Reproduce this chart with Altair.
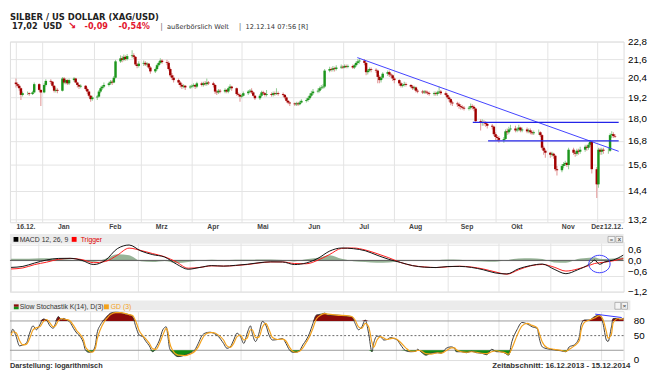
import altair as alt
import pandas as pd

# ---------------- daily candles, one row per trading week (Mon..Fri) ----------------
OPEN_W = [
    [20.10, 20.00, 19.90, 19.75, 19.35], [19.45, 19.45, 19.40, 19.50], [20.00, 19.65, 19.50, 19.95],
    [20.20, 20.15, 19.90, 19.60, 19.65], [19.60, 20.35, 20.10, 20.25, 20.05], [20.25, 20.35, 20.10, 19.95, 19.85],
    [19.90, 19.70, 19.55, 19.30, 19.10], [19.20, 19.25, 19.55, 19.75, 19.85], [19.95, 20.05, 20.15, 20.10, 20.40],
    [21.45, 21.65, 21.55, 21.75, 21.60], [21.80, 21.85, 21.75, 21.25, 21.15], [21.30, 21.35, 21.25, 21.30, 21.05],
    [20.80, 20.95, 21.20, 21.35, 21.50], [21.40, 21.35, 20.95, 20.55, 20.40], [20.25, 20.10, 19.95, 19.85, 19.90],
    [19.80, 19.85, 19.90, 19.95, 19.85], [20.05, 19.95, 20.05, 20.00, 20.10], [20.05, 19.95, 19.55, 19.50, 19.60],
    [19.55, 19.65, 19.55, 19.75, 19.85], [19.75, 19.40, 19.35, 19.25, 19.30], [19.45, 19.55, 19.60, 19.50, 19.30],
    [19.15, 19.30, 19.50, 19.45, 19.35], [19.40, 19.35, 19.45, 19.40, 19.45], [19.40, 19.35, 19.20, 19.00, 18.90],
    [18.85, 18.80, 18.85, 18.80, 18.90], [19.00, 19.05, 19.15, 19.30, 19.45], [19.55, 19.60, 19.75, 19.80, 19.85],
    [20.85, 20.95, 20.90, 21.00, 20.95], [21.05, 21.10, 21.05, 21.15, 21.10], [21.15, 21.05, 21.20, 21.35, 21.45],
    [21.50, 21.35, 20.75, 20.85, 20.95], [20.90, 20.85, 20.45, 20.25, 20.40], [20.65, 20.75, 20.60, 20.55, 20.35],
    [20.25, 20.05, 19.90, 19.95, 20.00], [19.95, 19.85, 19.75, 19.80, 19.60], [19.55, 19.50, 19.55, 19.50, 19.45],
    [19.40, 19.45, 19.40, 19.50, 19.55], [19.45, 19.35, 19.20, 19.10, 18.90], [18.85, 18.80, 18.70, 18.65, 18.60],
    [18.55, 18.60, 18.70, 18.65, 18.55], [17.85, 17.75, 17.80, 17.75, 17.70], [17.60, 17.55, 17.15, 17.00, 16.95],
    [16.85, 16.90, 17.30, 17.25, 17.40], [17.45, 17.35, 17.40, 17.50, 17.35], [17.40, 17.30, 17.35, 17.25, 17.20],
    [17.25, 17.25, 17.10, 16.45, 16.30], [16.20, 16.10, 16.15, 16.05, 15.40], [15.35, 15.55, 15.65, 15.70, 15.60],
    [16.35, 16.20, 16.15, 16.30, 16.25], [16.35, 16.50, 16.45, 16.60, 16.75], [15.40, 14.70, 16.35, 16.25, 16.35],
    [16.30, 16.30, 17.10, 17.15, 17.05],
]
HIGH_W = [
    [20.35, 20.10, 20.00, 19.80, 19.55], [19.55, 19.50, 19.60, 20.10], [20.05, 19.70, 20.05, 20.30],
    [20.30, 20.20, 19.95, 19.80, 19.75], [20.45, 20.45, 20.35, 20.30, 20.35], [20.45, 20.40, 20.15, 20.00, 20.00],
    [19.95, 19.80, 19.60, 19.35, 19.30], [19.35, 19.65, 19.85, 19.95, 20.10], [20.15, 20.25, 20.25, 20.50, 21.55],
    [21.85, 21.80, 21.90, 21.85, 21.95], [22.20, 22.00, 21.80, 21.35, 21.45], [21.50, 21.45, 21.40, 21.35, 21.15],
    [21.05, 21.30, 21.45, 21.65, 21.60], [21.55, 21.45, 21.05, 20.70, 20.55], [20.35, 20.20, 20.05, 20.00, 19.95],
    [19.95, 20.00, 20.05, 20.00, 20.15], [20.15, 20.15, 20.20, 20.35, 20.20], [20.15, 20.00, 19.65, 19.70, 19.70],
    [19.75, 19.70, 19.85, 20.00, 19.90], [19.80, 19.50, 19.45, 19.40, 19.55], [19.65, 19.70, 19.75, 19.55, 19.35],
    [19.40, 19.60, 19.60, 19.50, 19.65], [19.50, 19.55, 19.55, 19.75, 19.55], [19.50, 19.40, 19.25, 19.05, 18.95],
    [18.90, 18.95, 18.95, 19.00, 19.10], [19.15, 19.25, 19.45, 19.60, 19.70], [19.75, 19.85, 19.95, 20.00, 20.95],
    [21.10, 21.05, 21.15, 21.10, 21.20], [21.25, 21.20, 21.25, 21.25, 21.25], [21.25, 21.30, 21.45, 21.60, 21.65],
    [21.60, 21.40, 20.95, 21.05, 21.05], [21.00, 20.90, 20.55, 20.50, 20.75], [20.85, 20.85, 20.70, 20.60, 20.45],
    [20.30, 20.15, 20.05, 20.15, 20.10], [20.00, 19.95, 19.90, 19.85, 19.70], [19.65, 19.65, 19.65, 19.60, 19.55],
    [19.55, 19.55, 19.60, 19.85, 19.65], [19.55, 19.45, 19.30, 19.15, 19.00], [18.95, 18.90, 18.80, 18.75, 18.70],
    [18.70, 18.85, 18.80, 18.75, 18.60], [17.95, 17.95, 17.90, 17.85, 17.80], [17.70, 17.60, 17.25, 17.10, 17.05],
    [17.00, 17.40, 17.45, 17.55, 17.65], [17.60, 17.50, 17.65, 17.55, 17.50], [17.50, 17.45, 17.45, 17.35, 17.35],
    [17.40, 17.30, 17.15, 16.55, 16.40], [16.25, 16.25, 16.20, 16.10, 15.55], [15.65, 15.75, 15.80, 15.75, 16.45],
    [16.45, 16.30, 16.40, 16.40, 16.50], [16.60, 16.60, 16.70, 16.85, 16.80], [15.50, 16.45, 16.45, 16.45, 16.45],
    [16.45, 17.20, 17.30, 17.25, 17.15],
]
LOW_W = [
    [19.80, 19.80, 19.60, 19.05, 19.25], [19.35, 19.30, 19.35, 19.45], [19.55, 18.70, 19.45, 19.85],
    [20.00, 19.80, 19.50, 19.50, 19.45], [19.55, 20.00, 20.00, 19.95, 19.95], [20.15, 20.05, 19.80, 19.70, 19.75],
    [19.60, 19.40, 19.20, 18.95, 19.00], [19.05, 19.20, 19.45, 19.65, 19.75], [19.85, 19.95, 19.95, 20.05, 20.35],
    [21.35, 21.40, 21.45, 21.50, 21.50], [21.65, 21.60, 21.15, 21.00, 21.05], [21.15, 21.15, 21.10, 20.95, 20.65],
    [20.70, 20.85, 21.10, 21.25, 21.30], [21.20, 20.85, 20.45, 20.25, 20.10], [19.95, 19.80, 19.70, 19.75, 19.65],
    [19.70, 19.75, 19.80, 19.70, 19.75], [19.85, 19.85, 19.90, 19.90, 19.95], [19.80, 19.40, 19.35, 19.40, 19.45],
    [19.45, 19.45, 19.45, 19.65, 19.60], [19.30, 19.25, 18.95, 19.15, 19.25], [19.35, 19.45, 19.40, 19.25, 19.05],
    [19.05, 19.20, 19.35, 19.25, 19.25], [19.25, 19.25, 19.30, 19.35, 19.30], [19.25, 19.10, 18.90, 18.80, 18.70],
    [18.70, 18.70, 18.70, 18.75, 18.85], [18.90, 18.95, 19.05, 19.20, 19.35], [19.45, 19.50, 19.65, 19.70, 19.75],
    [20.75, 20.80, 20.80, 20.80, 20.85], [20.95, 20.95, 21.00, 21.00, 21.00], [20.95, 20.95, 21.10, 21.25, 21.30],
    [21.20, 20.55, 20.60, 20.75, 20.75], [20.70, 20.05, 20.05, 20.10, 20.30], [20.50, 20.45, 20.40, 20.20, 20.05],
    [19.90, 19.80, 19.80, 19.85, 19.85], [19.75, 19.65, 19.65, 19.50, 19.45], [19.40, 19.40, 19.40, 19.35, 19.30],
    [19.30, 19.30, 19.30, 19.40, 19.35], [19.25, 19.10, 18.95, 18.75, 18.70], [18.65, 18.55, 18.50, 18.50, 18.45],
    [18.45, 18.50, 18.50, 18.40, 17.75], [17.35, 17.60, 17.60, 17.55, 17.45], [17.40, 17.05, 16.85, 16.80, 16.70],
    [16.70, 16.85, 17.10, 17.15, 17.30], [17.25, 17.25, 17.30, 17.25, 17.25], [17.20, 17.20, 17.15, 17.10, 17.10],
    [17.10, 17.00, 16.35, 16.10, 15.95], [15.95, 16.00, 15.90, 15.30, 15.10], [15.25, 15.45, 15.55, 15.50, 15.40],
    [16.10, 16.00, 16.05, 16.10, 16.15], [16.25, 16.30, 16.35, 16.50, 15.20], [14.10, 14.55, 16.10, 16.10, 16.15],
    [16.15, 16.25, 16.95, 16.95, 16.95],
]
CLOSE_W = [
    [20.00, 19.90, 19.75, 19.35, 19.45], [19.45, 19.40, 19.50, 20.00], [19.65, 19.50, 19.95, 20.20],
    [20.15, 19.90, 19.60, 19.65, 19.60], [20.35, 20.10, 20.25, 20.05, 20.25], [20.35, 20.10, 19.95, 19.85, 19.90],
    [19.70, 19.55, 19.30, 19.10, 19.20], [19.25, 19.55, 19.75, 19.85, 19.95], [20.05, 20.15, 20.10, 20.40, 21.45],
    [21.65, 21.55, 21.75, 21.60, 21.80], [21.85, 21.75, 21.25, 21.15, 21.30], [21.35, 21.25, 21.30, 21.05, 20.80],
    [20.95, 21.20, 21.35, 21.50, 21.40], [21.35, 20.95, 20.55, 20.40, 20.25], [20.10, 19.95, 19.85, 19.90, 19.80],
    [19.85, 19.90, 19.95, 19.85, 20.05], [19.95, 20.05, 20.00, 20.10, 20.05], [19.95, 19.55, 19.50, 19.60, 19.55],
    [19.65, 19.55, 19.75, 19.85, 19.75], [19.40, 19.35, 19.25, 19.30, 19.45], [19.55, 19.60, 19.50, 19.30, 19.15],
    [19.30, 19.50, 19.45, 19.35, 19.40], [19.35, 19.45, 19.40, 19.45, 19.40], [19.35, 19.20, 19.00, 18.90, 18.85],
    [18.80, 18.85, 18.80, 18.90, 19.00], [19.05, 19.15, 19.30, 19.45, 19.55], [19.60, 19.75, 19.80, 19.85, 20.85],
    [20.95, 20.90, 21.00, 20.95, 21.05], [21.10, 21.05, 21.15, 21.10, 21.15], [21.05, 21.20, 21.35, 21.45, 21.50],
    [21.35, 20.75, 20.85, 20.95, 20.90], [20.85, 20.45, 20.25, 20.40, 20.65], [20.75, 20.60, 20.55, 20.35, 20.25],
    [20.05, 19.90, 19.95, 20.00, 19.95], [19.85, 19.75, 19.80, 19.60, 19.55], [19.50, 19.55, 19.50, 19.45, 19.40],
    [19.45, 19.40, 19.50, 19.55, 19.45], [19.35, 19.20, 19.10, 18.90, 18.85], [18.80, 18.70, 18.65, 18.60, 18.55],
    [18.60, 18.70, 18.65, 18.55, 17.85], [17.75, 17.80, 17.75, 17.70, 17.60], [17.55, 17.15, 17.00, 16.95, 16.85],
    [16.90, 17.30, 17.25, 17.40, 17.45], [17.35, 17.40, 17.50, 17.35, 17.40], [17.30, 17.35, 17.25, 17.20, 17.25],
    [17.25, 17.10, 16.45, 16.30, 16.20], [16.10, 16.15, 16.05, 15.40, 15.35], [15.55, 15.65, 15.70, 15.60, 16.35],
    [16.20, 16.15, 16.30, 16.25, 16.35], [16.50, 16.45, 16.60, 16.75, 15.40], [14.70, 16.35, 16.25, 16.35, 16.30],
    [16.30, 17.10, 17.15, 17.05, 17.02],
]
PRICE_TICKS = [13.2, 14.4, 15.6, 16.8, 18.0, 19.2, 20.4, 21.6, 22.8]

# drawn-in annotations (day offset from 16.12.2013, value)
TREND_DAY = [205.7, 363.2]
TREND_PRICE = [21.70, 16.27]
LEVEL_FROM = [275.3, 284.5]
LEVEL_TO = [363.2, 363.2]
LEVEL_PRICE = [17.78, 16.80]

# ---------------- MACD 12,26,9 ----------------
MACD_DAY = [0, 7, 14, 21, 28, 35, 42, 49, 56, 63,
            70, 77, 84, 91, 98, 105, 112, 119, 126, 133,
            140, 147, 154, 161, 168, 175, 182, 189, 196, 203,
            210, 217, 224, 231, 238, 245, 252, 259, 266, 273,
            280, 287, 294, 301, 308, 315, 322, 329, 336, 343,
            346, 349, 352, 357, 363]
MACD = [-0.27, -0.23, -0.10, 0.015, 0.075, 0.08, 0.0, -0.16, 0.01, 0.45,
        0.59, 0.36, 0.22, 0.13, -0.14, -0.34, -0.27, -0.20, -0.22, -0.19,
        -0.15, -0.09, -0.055, -0.06, -0.16, -0.10, 0.08, 0.36, 0.475, 0.45,
        0.37, 0.20, 0.04, -0.08, -0.20, -0.26, -0.275, -0.235, -0.23, -0.27,
        -0.36, -0.48, -0.52, -0.32, -0.20, -0.14, -0.34, -0.51, -0.36, -0.14,
        0.01, -0.15, -0.06, 0.01, 0.20]
TRIGGER = [-0.33, -0.29, -0.16, -0.07, 0.04, 0.075, 0.03, -0.09, -0.04, 0.20,
           0.47, 0.38, 0.26, 0.14, -0.06, -0.30, -0.27, -0.21, -0.22, -0.20,
           -0.16, -0.10, -0.06, -0.06, -0.12, -0.13, 0.01, 0.23, 0.46, 0.475,
           0.40, 0.26, 0.10, -0.08, -0.20, -0.25, -0.275, -0.245, -0.225, -0.255,
           -0.33, -0.44, -0.53, -0.36, -0.21, -0.155, -0.26, -0.41, -0.33, -0.19,
           -0.12, -0.09, -0.07, -0.015, 0.07]
HIST = [0.06, 0.06, 0.07, 0.08, 0.05, 0.02, -0.03, -0.06, 0.06, 0.24,
        0.20, -0.03, -0.06, -0.02, -0.10, -0.06, 0.0, 0.02, 0.01, 0.02,
        0.02, 0.03, 0.03, 0.01, -0.04, 0.04, 0.10, 0.20, 0.06, -0.03,
        -0.06, -0.09, -0.08, -0.02, 0.0, -0.02, 0.0, 0.03, 0.02, -0.02,
        -0.04, -0.05, 0.01, 0.07, 0.08, 0.05, -0.08, -0.09, 0.05, 0.10,
        0.12, 0.06, 0.05, 0.07, 0.12]
MACD_TICKS = [0.6, 0.0, -0.6, -1.2]
CIRCLE_DAY = [348.9]
CIRCLE_VAL = [-0.139]

# ---------------- Slow Stochastik K(14), D(3) ----------------
STOCH_DAY = [0, 1, 3, 5, 7, 9, 11, 13, 15, 17,
             19, 21, 23, 25, 26, 28, 30, 31, 33, 35,
             37, 39, 41, 43, 44, 46, 48, 50, 51, 53,
             55, 57, 59, 62, 65, 68, 70, 72, 74, 76,
             78, 80, 82, 84, 86, 88, 90, 92, 93, 94,
             96, 99, 103, 106, 109, 111, 113, 115, 118, 120,
             123, 126, 128, 130, 132, 134, 136, 138, 140, 142,
             143, 145, 147, 149, 151, 153, 155, 158, 161, 163,
             165, 167, 169, 171, 173, 175, 177, 179, 181, 184,
             186, 188, 193, 199, 202, 204, 206, 208, 210, 212,
             214, 215, 217, 219, 221, 223, 225, 227, 229, 231,
             234, 237, 240, 241, 243, 246, 249, 253, 255, 258,
             261, 263, 264, 267, 270, 273, 276, 279, 282, 285,
             288, 290, 293, 295, 297, 300, 303, 306, 309, 312,
             313, 315, 318, 322, 326, 329, 331, 334, 337, 338,
             340, 343, 346, 349, 351, 353, 354, 356, 357, 360,
             361, 363, 365, 367]
STOCH_K = [55, 63, 48, 29, 31, 34, 55, 70, 62, 72,
           84, 82, 70, 65, 72, 89, 82, 85, 82, 77,
           65, 55, 48, 34, 21, 16, 17, 31, 55, 72,
           82, 90, 96, 98, 97, 94, 93, 89, 68, 51,
           48, 38, 29, 17, 27, 41, 62, 68, 48, 24,
           14, 7, 10, 14, 21, 34, 49, 55, 57, 55,
           48, 34, 24, 27, 41, 55, 48, 34, 55, 70,
           55, 38, 55, 79, 72, 51, 41, 42, 44, 34,
           21, 16, 16, 19, 31, 41, 55, 75, 92, 94,
           96, 92, 92, 90, 89, 75, 62, 68, 82, 55,
           17, 34, 49, 48, 41, 42, 46, 44, 41, 31,
           19, 17, 18, 22, 17, 10, 14, 15, 14, 24,
           27, 24, 17, 17, 15, 18, 15, 14, 11, 22,
           17, 17, 14, 10, 38, 62, 77, 74, 68, 65,
           48, 27, 23, 21, 19, 17, 27, 31, 48, 72,
           82, 82, 89, 92, 75, 41, 38, 68, 85, 85,
           83, 85, 92, 96]
STOCH_D = [50, 58, 56, 40, 31, 32, 44, 62, 66, 68,
           78, 83, 76, 68, 69, 80, 85, 84, 83, 80,
           71, 60, 52, 41, 28, 19, 16, 24, 42, 63,
           77, 86, 93, 97, 97, 95, 93, 91, 79, 60,
           50, 43, 34, 23, 22, 34, 51, 65, 58, 36,
           19, 10, 9, 12, 18, 27, 41, 52, 56, 56,
           51, 41, 29, 26, 34, 48, 51, 41, 45, 62,
           62, 46, 47, 67, 75, 62, 46, 42, 43, 39,
           27, 18, 16, 18, 25, 36, 48, 65, 84, 93,
           95, 94, 92, 91, 89, 82, 68, 65, 75, 68,
           36, 26, 41, 48, 45, 42, 44, 45, 42, 36,
           25, 18, 18, 20, 19, 13, 12, 15, 14, 19,
           25, 25, 21, 17, 16, 17, 16, 14, 13, 17,
           19, 17, 15, 12, 24, 50, 70, 75, 71, 66,
           57, 37, 25, 22, 20, 18, 22, 29, 40, 60,
           77, 82, 86, 91, 83, 58, 45, 53, 76, 85,
           84, 84, 89, 94]
STOCH_TICKS = [80, 50, 0]
STOCH_BANDS = [20, 80]
STOCH_MID = [50]
STOCH_NOTE_DAY = [346.4, 362.1]
STOCH_NOTE_VAL = [94, 87]

MONTHS = ["Jan", "Feb", "Mrz", "Apr", "Mai", "Jun", "Jul", "Aug", "Sep", "Okt", "Nov", "Dez"]

# ---------------- tables ----------------
START = pd.Timestamp("2013-12-16")
HOLIDAYS = {"2013-12-25", "2014-01-01"}
dates = [d for d in pd.bdate_range("2013-12-16", "2014-12-12") if d.strftime("%Y-%m-%d") not in HOLIDAYS]


def flat(rows):
    return [v for r in rows for v in r]


candles = pd.DataFrame({
    "day": [(d - START).days for d in dates],
    "o": flat(OPEN_W), "h": flat(HIGH_W), "l": flat(LOW_W), "c": flat(CLOSE_W),
})
trend_df = pd.DataFrame({"day": TREND_DAY, "p": TREND_PRICE})
level_df = pd.DataFrame({"day": LEVEL_FROM, "day2": LEVEL_TO, "p": LEVEL_PRICE})
macd_df = pd.DataFrame({"day": MACD_DAY, "macd": MACD, "trig": TRIGGER, "hist": HIST})
zero_df = pd.DataFrame({"v": [0.0]})
circle_df = pd.DataFrame({"day": CIRCLE_DAY, "v": CIRCLE_VAL})
st_df = pd.DataFrame({"day": STOCH_DAY, "k": STOCH_K, "d": STOCH_D})
st_note = pd.DataFrame({"day": STOCH_NOTE_DAY, "v": STOCH_NOTE_VAL})
ONE = pd.DataFrame({"k": [0]})

month_days = [(pd.Timestamp(2014, m, 1) - START).days for m in range(1, 13)]
END_LABEL_DAY = 354.1  # where the trailing "12.12." label starts

W = 628
FONT = "Liberation Sans"
VFONT = "DejaVu Sans"


def txt(s, x, y, size=7, weight="normal", color="#333", font=FONT, align="left"):
    return alt.Chart(ONE).mark_text(
        text=s, align=align, baseline="alphabetic", fontSize=size, fontWeight=weight,
        color=color, font=font,
    ).encode(x=alt.value(x), y=alt.value(y))


def box(x1, x2, y1, y2, fill, stroke=None):
    if stroke:
        m = alt.Chart(ONE).mark_rect(fill=fill, stroke=stroke, strokeWidth=0.7)
    else:
        m = alt.Chart(ONE).mark_rect(fill=fill)
    return m.encode(x=alt.value(x1), x2=alt.value(x2), y=alt.value(y1), y2=alt.value(y2))


xs = alt.Scale(domain=[-0.67, 363.2], nice=False, zero=False)

label_expr = ("datum.value < 1 ? '16.12.' : datum.value > 353 ? '12.12.' : "
              f"{MONTHS!r}[indexof({month_days!r}, datum.value)]")
xaxis_main = alt.Axis(
    values=[0] + month_days + [END_LABEL_DAY], labelExpr=label_expr, title=None,
    grid=True, gridColor="#e3e3e3",
    gridOpacity={"condition": {"test": "datum.value > 353", "value": 0}, "value": 1},
    ticks=False, domain=False, labelOverlap=False, labelFlush=False, labelBound=False,
    labelFont=FONT, labelFontWeight="bold", labelFontSize=7, labelColor="#444",
    labelBaseline="top", labelPadding=0,
    labelAlign={"condition": {"test": "datum.value < 1 || datum.value > 353", "value": "left"}, "value": "center"},
    labelOffset={"condition": {"test": "datum.value < 1 || datum.value > 349", "value": 0}, "value": 21.3},
)
xaxis_grid = alt.Axis(values=[0] + month_days, grid=True, gridColor="#e3e3e3", ticks=False,
                      domain=False, labels=False, title=None)

comma = "replace(format(datum.value, '.1f'), '.', ',')"

# ---------------- main price panel ----------------
ys_main = alt.Scale(type="log", domain=[13.0816, 22.8], nice=False, zero=False)
yaxis_main = alt.Axis(orient="right", values=PRICE_TICKS, labelExpr=comma, title=None, grid=True,
                      gridColor="#e3e3e3", ticks=False, domain=False, labelPadding=4, labelOverlap=False)
Xm = alt.X("day:Q", scale=xs, axis=xaxis_main)


def Ym(f):
    return alt.Y(f"{f}:Q", scale=ys_main, axis=yaxis_main)


up = "datum.c >= datum.o"
wicks = alt.Chart(candles).mark_rule(strokeWidth=1.1).encode(
    x=Xm, y=Ym("l"), y2="h",
    color=alt.condition(up, alt.value("#9acf9a"), alt.value("#e39a9a")))
bodies = alt.Chart(candles).mark_bar(size=2.5).encode(
    x=Xm, y=Ym("o"), y2="c",
    color=alt.condition(up, alt.value("#1c961c"), alt.value("#a00000")))
trend = alt.Chart(trend_df).mark_line(color="#4040ff", strokeWidth=1).encode(x=Xm, y=Ym("p"))
levels = alt.Chart(level_df).mark_rule(color="#2424e8", strokeWidth=1.3).encode(
    x=Xm, x2="day2", y=Ym("p"))

red = "#e2162e"
header = [
    txt("SILBER / US DOLLAR (XAG/USD)", 0, -22.4, 8.6, "bold", "#222", VFONT),
    txt("17,02", 2, -12.8, 8.3, "bold", "#222", VFONT),
    txt("USD", 33.7, -12.8, 8.3, "bold", "#222", VFONT),
    txt("\u2198", 59.5, -12.6, 10, "bold", red, VFONT),
    txt("-0,09", 76.4, -12.8, 8.3, "bold", red, VFONT),
    txt("-0,54%", 111.1, -12.8, 8.3, "bold", red, VFONT),
    txt("|", 153.8, -12.8, 8, "normal", "#777", VFONT),
    txt("au\u00dferb\u00f6rslich Welt", 160.7, -13.2, 6.8, "normal", "#333", VFONT),
    txt("|", 234.1, -12.8, 8, "normal", "#777", VFONT),
    txt("12.12.14 07:56 [R]", 241.1, -13.2, 6.8, "normal", "#333", VFONT),
]
main = alt.layer(wicks, bodies, trend, levels, *header).properties(width=W, height=185)

# ---------------- MACD panel ----------------
Xg = alt.X("day:Q", scale=xs, axis=xaxis_grid)
ys_macd = alt.Scale(domain=[-1.2, 0.7125], nice=False, zero=False)
yaxis_macd = alt.Axis(
    orient="right", values=MACD_TICKS, labelExpr=comma, title=None, grid=True, gridColor="#e3e3e3",
    ticks=False, domain=False, labelPadding=4, labelOverlap=False, labelBound=False, labelFlush=False,
    labelOffset={"condition": {"test": "datum.value > 0.5", "value": 5}, "value": 0},
    labelBaseline={"condition": {"test": "datum.value < -0.5 && datum.value > -1", "value": "bottom"},
                   "value": "middle"},
)


def Yc(f):
    return alt.Y(f"{f}:Q", scale=ys_macd, axis=yaxis_macd)


hist = alt.Chart(macd_df).mark_area(color="#86a786", opacity=0.85, interpolate="monotone").encode(
    x=Xg, y=Yc("hist"), y2=alt.datum(0))
zero = alt.Chart(zero_df).mark_rule(color="#555", strokeWidth=1).encode(y=Yc("v"))
trig_line = alt.Chart(macd_df).mark_line(color="#ff1a1a", strokeWidth=1, interpolate="monotone").encode(
    x=Xg, y=Yc("trig"))
macd_line = alt.Chart(macd_df).mark_line(color="#111", strokeWidth=1, interpolate="monotone").encode(
    x=Xg, y=Yc("macd"))
ellipse = alt.Chart(circle_df).mark_point(
    shape="M -1 0 A 1 0.82 0 1 1 1 0 A 1 0.82 0 1 1 -1 0", size=475, filled=False,
    color="#3a3aff", strokeWidth=1, opacity=1,
).encode(x=Xg, y=Yc("v"))
macd_head = [
    box(0, W, -8, 2, "#ebebeb"),
    box(3.7, 8.6, -5, 0, "#000"),
    txt("MACD 12, 26, 9", 9.9, 0.3, 7, "normal", "#333"),
    box(63.2, 68.2, -5, 0, "#ff0000"),
    txt("Trigger", 72.4, 0.3, 7, "normal", "#e00000"),
    box(612.1, 619.1, -5.5, 0.5, "#f4f4f4", "#999"),
    box(620.1, 627.1, -5.5, 0.5, "#f4f4f4", "#999"),
    txt("=", 615.6, 0, 6, "bold", "#555", align="center"),
    txt("\u00d7", 623.6, 0, 6.5, "bold", "#555", align="center"),
]
macd = alt.layer(*macd_head, hist, zero, trig_line, macd_line, ellipse).properties(width=W, height=51)

# ---------------- Stochastik panel ----------------
ys_st = alt.Scale(domain=[0, 100], nice=False, zero=False)
yaxis_st = alt.Axis(orient="right", values=STOCH_TICKS, title=None, grid=False, ticks=False,
                    domain=False, labelPadding=10, labelOverlap=False, labelBound=False, labelFlush=False)


def Ys(f):
    return alt.Y(f"{f}:Q", scale=ys_st, axis=yaxis_st)


red_fill = alt.Chart(st_df).transform_calculate(top="max(datum.k, 80)").mark_area(
    color="#8b0b0b", interpolate="monotone", clip=True).encode(x=Xg, y=Ys("top"), y2=alt.datum(80))
green_fill = alt.Chart(st_df).transform_calculate(bot="min(datum.k, 20)").mark_area(
    color="#148c14", interpolate="monotone", clip=True).encode(x=Xg, y=Ys("bot"), y2=alt.datum(20))
band = alt.Chart(pd.DataFrame({"v": STOCH_BANDS})).mark_rule(color="#9a9a9a", strokeWidth=1).encode(
    y=Ys("v"))
mid = alt.Chart(pd.DataFrame({"v": STOCH_MID})).mark_rule(
    color="#666", strokeWidth=1, strokeDash=[2, 2]).encode(y=Ys("v"))
k_line = alt.Chart(st_df).mark_line(color="#3c3c3c", strokeWidth=1, interpolate="monotone", clip=True).encode(
    x=Xg, y=Ys("k"))
d_line = alt.Chart(st_df).mark_line(color="#f4a21c", strokeWidth=1.2, interpolate="monotone", clip=True).encode(
    x=Xg, y=Ys("d"))
st_blue = alt.Chart(st_note).mark_line(color="#3333ff", strokeWidth=1).encode(x=Xg, y=Ys("v"))
st_head = [
    box(0, 635, -11, -1, "#ebebeb"),
    box(4, 8.9, -7, -4.5, "#8b0b0b"),
    box(4, 8.9, -4.5, -2, "#148c14"),
    txt("Slow Stochastik K(14), D(3)", 9.9, -2.3, 7, "normal", "#333"),
    box(96.2, 101.2, -7, -2, "#f4a21c"),
    txt("GD (3)", 103.2, -2.3, 7, "normal", "#f4a21c"),
    box(619.1, 625.1, -9, -2, "#f4f4f4", "#999"),
    box(626, 632, -9, -2, "#f4f4f4", "#999"),
    txt("\u00d7", 629, -3, 6, "bold", "#555", align="center"),
]
footer = [
    txt("Darstellung: logarithmisch", 0, 58, 7.5, "bold", "#333"),
    txt("Zeitabschnitt: 16.12.2013 - 15.12.2014", 635, 58, 8, "bold", "#333", align="right"),
]
stoch = alt.layer(*st_head, band, mid, red_fill, green_fill, k_line, d_line, st_blue, *footer).properties(
    width=W, height=50)

chart = alt.vconcat(main, macd, stoch, spacing=20, bounds="flush", padding=0).configure_view(
    stroke=None
).configure_axis(labelFont=FONT, labelFontSize=7, labelColor="#555").configure(background="white")

chart.save("out.html", embed_options={"renderer": "svg", "actions": False})
